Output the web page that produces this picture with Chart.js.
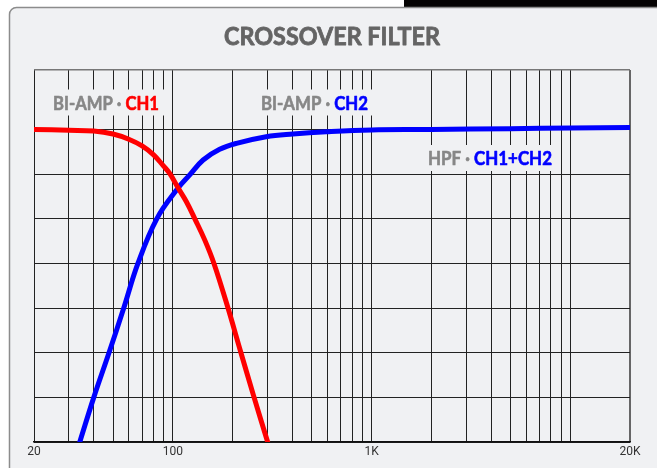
<!DOCTYPE html>
<html>
<head>
<meta charset="utf-8">
<title>Crossover Filter</title>
<script src="https://cdn.jsdelivr.net/npm/chart.js@4.4.1/dist/chart.umd.min.js"></script>
<style>
    html, body { margin: 0; padding: 0; background: #fff; }
    canvas { display: block; }
</style>
</head>
<body>
<canvas id="chart" width="657" height="468"></canvas>
<script>
// Datos (frecuencia en Hz, nivel en dB)
const lpfFreq = [20, 30, 40, 50, 60, 70, 80, 89.4, 96.4, 106, 117, 129, 145, 161, 188, 219, 255, 300];
const lpfDb   = [0, -0.1, -0.2, -0.6, -1.3, -2.2, -3.4, -4.85, -5.9, -7.8, -9.7, -12, -14.9, -18, -23.7, -29.8, -35.8, -42];

const hpfFreq = [34, 40, 47.7, 56.6, 66.7, 83, 106, 121.6, 142, 172, 209, 295, 402, 592, 1000, 2000, 5000, 10000, 20000];
const hpfDb   = [-42, -36, -30, -24, -18, -12, -7.9, -6.1, -4.1, -2.66, -1.86, -0.97, -0.6, -0.3, -0.05, 0, 0.12, 0.2, 0.27];

// Ejes
const xGridFreqs = [20, 30, 40, 50, 60, 70, 80, 90, 100, 200, 300, 400, 500, 600, 700, 800, 900,
                    1000, 2000, 3000, 4000, 5000, 6000, 7000, 8000, 9000, 10000, 20000];
const xLabelFreqs = [20, 100, 1000, 20000];
const xLabelTexts = ['20', '100', '1K', '20K'];
const yGridDb = [-42, -36, -30, -24, -18, -12, -6, 0, 8];

// Estilos
const COLORS = {
    panel: '#f0f1f3',
    panelBorder: '#8c8c8c',
    grid: '#222',
    title: '#646464',
    label: '#878787',
    ch1: '#ff0000',
    ch2: '#0000ff'
};

const toPoints = (xs, ys) => xs.map((x, i) => ({ x, y: ys[i] }));

// Textos sobre el gráfico
const LABELS = [
    { x: 53, base: 109.5, width: 106, parts: [['BI-AMP · ', COLORS.label], ['CH1', COLORS.ch1]] },
    { x: 261, base: 109.5, width: 107, parts: [['BI-AMP · ', COLORS.label], ['CH2', COLORS.ch2]] },
    { x: 428, base: 165, width: 124, parts: [['HPF · ', COLORS.label], ['CH1+CH2', COLORS.ch2]] }
];

// Texto en varias partes, comprimido al ancho pedido (con un trazo fino para engrosar)
function drawParts(ctx, parts, x, base, width, font, stroke) {
    ctx.font = font;
    ctx.textBaseline = 'alphabetic';
    ctx.textAlign = 'left';
    const total = parts.reduce((s, p) => s + ctx.measureText(p[0]).width, 0);
    ctx.save();
    ctx.translate(x, base);
    ctx.scale(width / total, 1);
    ctx.lineWidth = stroke;
    ctx.lineJoin = 'round';
    let cx = 0;
    parts.forEach(([text, color]) => {
        ctx.fillStyle = color;
        ctx.strokeStyle = color;
        ctx.fillText(text, cx, 0);
        if (stroke) ctx.strokeText(text, cx, 0);
        cx += ctx.measureText(text).width;
    });
    ctx.restore();
}

const backgroundPlugin = {
    id: 'background',
    beforeDraw(chart) {
        const ctx = chart.ctx;
        ctx.save();
        ctx.fillStyle = '#fff';
        ctx.fillRect(0, 0, chart.width, chart.height);
        ctx.fillStyle = '#050303';
        ctx.fillRect(404, 0, chart.width - 404, 7);
        ctx.beginPath();
        ctx.roundRect(9.5, 7.5, 720, 520, 7);
        ctx.fillStyle = COLORS.panel;
        ctx.fill();
        ctx.lineWidth = 1.5;
        ctx.strokeStyle = COLORS.panelBorder;
        ctx.stroke();
        ctx.restore();
    },
    afterDraw(chart) {
        drawParts(chart.ctx, [['CROSSOVER FILTER', COLORS.title]], 224, 45, 216, 'bold 24px Lato', 0.8);
    }
};

const labelsPlugin = {
    id: 'labels',
    beforeDatasetsDraw(chart) {
        const ctx = chart.ctx;
        ctx.save();
        LABELS.forEach(l => {
            ctx.fillStyle = COLORS.panel;
            ctx.fillRect(l.x - 6, l.base - 20, l.width + 12, 26);
            drawParts(ctx, l.parts, l.x, l.base, l.width, 'bold 18px Lato', 0.6);
        });
        ctx.restore();
    }
};

new Chart(document.getElementById('chart'), {
    type: 'line',
    data: {
        datasets: [
            {
                label: 'CH1',
                data: toPoints(lpfFreq, lpfDb),
                borderColor: COLORS.ch1,
                borderWidth: 5,
                borderCapStyle: 'round',
                tension: 0.4,
                pointRadius: 0,
                fill: false
            },
            {
                label: 'CH2',
                data: toPoints(hpfFreq, hpfDb),
                borderColor: COLORS.ch2,
                borderWidth: 5,
                borderCapStyle: 'round',
                tension: 0.4,
                pointRadius: 0,
                fill: false
            }
        ]
    },
    options: {
        responsive: false,
        animation: false,
        devicePixelRatio: 1,
        layout: { padding: { left: 34, right: 27, top: 70, bottom: 0 } },
        plugins: {
            legend: { display: false },
            title: { display: false },
            tooltip: { enabled: false }
        },
        scales: {
            x: {
                type: 'logarithmic',
                min: 20,
                max: 20000,
                afterBuildTicks: (scale) => {
                    scale.ticks = xGridFreqs.map(v => ({ value: v }));
                },
                afterFit: (scale) => { scale.height = 26; },
                ticks: {
                    autoSkip: false,
                    maxRotation: 0,
                    minRotation: 0,
                    padding: 3,
                    color: '#333',
                    font: { family: "'Liberation Sans Narrow', Roboto, sans-serif", size: 12 },
                    callback: (value) => {
                        const i = xLabelFreqs.indexOf(value);
                        return i >= 0 ? xLabelTexts[i] : '';
                    }
                },
                grid: {
                    drawTicks: false,
                    color: (c) => c.tick && c.tick.value === 20000 ? '#666' : COLORS.grid,
                    lineWidth: (c) => c.tick && c.tick.value === 20000 ? 2 : 1
                },
                border: { display: true, color: '#111', width: 1.5 }
            },
            y: {
                min: -42,
                max: 8,
                afterBuildTicks: (scale) => {
                    scale.ticks = yGridDb.map(v => ({ value: v }));
                },
                afterFit: (scale) => { scale.width = 0; },
                ticks: { display: false },
                grid: {
                    drawTicks: false,
                    color: (c) => c.tick && c.tick.value === 8 ? '#777' : COLORS.grid,
                    lineWidth: (c) => c.tick && c.tick.value === 8 ? 1.5 : 1
                },
                border: { display: false }
            }
        }
    },
    plugins: [backgroundPlugin, labelsPlugin]
});
</script>
</body>
</html>
